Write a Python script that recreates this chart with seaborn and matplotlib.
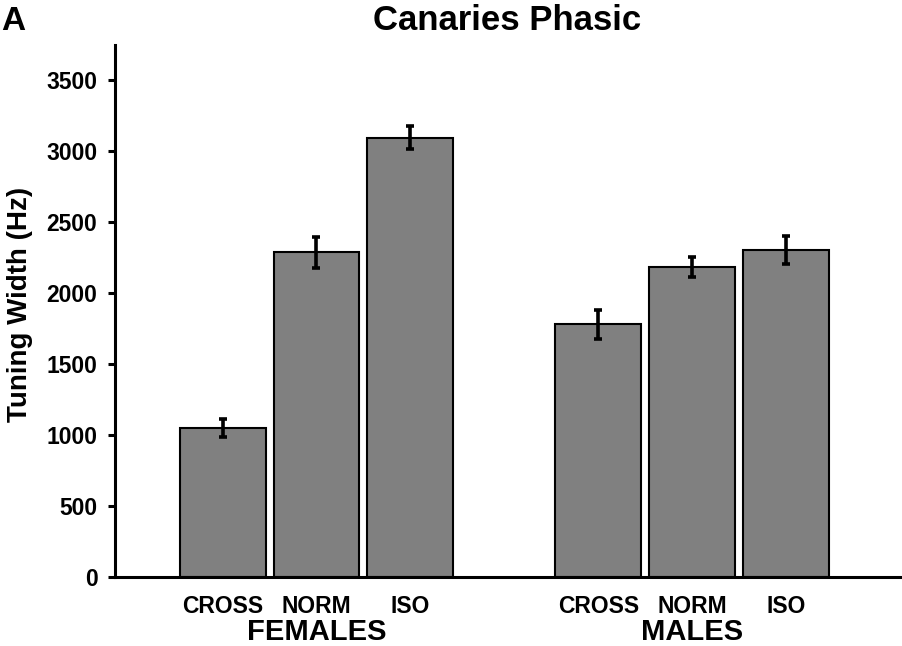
import matplotlib
matplotlib.use("Agg")
import matplotlib.pyplot as plt
import matplotlib.transforms as mtransforms
import seaborn as sns
import numpy as np
import pandas as pd

# ---- data ----
conditions = ["CROSS", "NORM", "ISO"]
groups = ["FEMALES", "MALES"]
females_mean = [1052, 2288, 3097]
females_err = [62, 108, 82]
males_mean = [1780, 2186, 2306]
males_err = [100, 68, 98]
y_ticks = [0, 500, 1000, 1500, 2000, 2500, 3000, 3500]
title = "Canaries Phasic"
ylabel = "Tuning Width (Hz)"
panel = "A"

sns.set_theme(style="white")
plt.rcParams["font.family"] = ["Liberation Sans", "DejaVu Sans"]
plt.rcParams["font.weight"] = "bold"
plt.rcParams["text.color"] = "black"
plt.rcParams["axes.labelcolor"] = "black"
plt.rcParams["xtick.color"] = "black"
plt.rcParams["ytick.color"] = "black"
plt.rcParams["axes.edgecolor"] = "black"

# positions: females 0,1,2 ; gap ; males 4,5,6
pos = [0, 1, 2, 4, 5, 6]
df = pd.DataFrame({
    "pos": pos,
    "value": females_mean + males_mean,
    "err": females_err + males_err,
    "label": conditions + conditions,
})

W, H = 903, 646
fig = plt.figure(figsize=(W / 100, H / 100), dpi=100)
ax = fig.add_axes([115.5 / W, (H - 577) / H, (W - 115.5) / W, (577 - 45) / H])

sns.barplot(data=df, x="pos", y="value", native_scale=True, width=0.915,
            color="#808080", saturation=1, edgecolor="black", linewidth=1.5,
            errorbar=None, ax=ax)
ax.errorbar(df["pos"], df["value"], yerr=df["err"], fmt="none",
            ecolor="black", elinewidth=2.6, capsize=3, capthick=2.6, zorder=5)

ax.set_xlim(-1.14, 7.245)
ax.set_ylim(0, 3750)
ax.set_yticks(y_ticks)
ax.set_yticklabels([str(t) for t in y_ticks], fontsize=16.5, fontweight="bold", color="black")
ax.set_xticks(pos)
ax.set_xticklabels(df["label"], fontsize=16.5, fontweight="bold", color="black")
ax.tick_params(axis="x", length=0, pad=13)
ax.tick_params(axis="y", length=5, width=2.2, pad=8, left=True, direction="out", color="black")
ax.set_xlabel("")
ax.set_ylabel("")
for s in ["top", "right"]:
    ax.spines[s].set_visible(False)
for s in ["left", "bottom"]:
    ax.spines[s].set_linewidth(2.2)
    ax.spines[s].set_color("black")

trans = mtransforms.blended_transform_factory(ax.transData, ax.transAxes)
ax.text(1, -0.103, groups[0], transform=trans, ha="center", va="center",
        fontsize=21, fontweight="bold", color="black")
ax.text(5, -0.103, groups[1], transform=trans, ha="center", va="center",
        fontsize=21, fontweight="bold", color="black")

fig.text(20 / W, 1 - 304 / H, ylabel, rotation=90, ha="center", va="center",
         fontsize=20, fontweight="bold", color="black")
fig.text(507 / W, 1 - 21 / H, title, ha="center", va="center",
         fontsize=25, fontweight="bold", color="black")
fig.text(13 / W, 1 - 21 / H, panel, ha="center", va="center",
         fontsize=24, fontweight="bold", color="black")

fig.savefig("out.png", dpi=100)
